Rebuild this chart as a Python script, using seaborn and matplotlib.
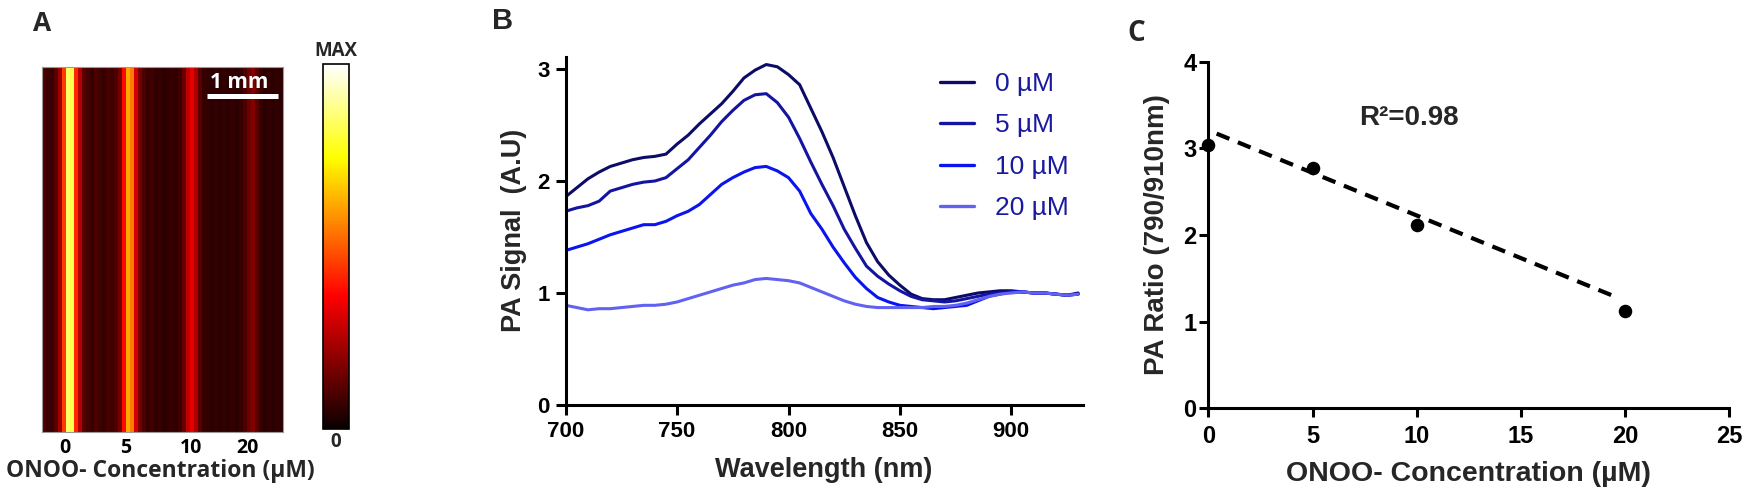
import numpy as np
import pandas as pd
import matplotlib
matplotlib.use("Agg")
import matplotlib.pyplot as plt
import seaborn as sns
from matplotlib import font_manager
from matplotlib.font_manager import FontProperties

# ---------------- data ----------------
# Panel A: horizontal intensity profile across the tube image (0 = black, 1 = MAX)
intensity_profile = [0.10, 0.08, 0.07, 0.12, 0.22, 0.45, 0.85, 0.82, 0.42, 0.25,
                     0.12, 0.09, 0.07, 0.10, 0.08, 0.07, 0.09, 0.08, 0.10, 0.16,
                     0.38, 0.62, 0.55, 0.30, 0.16, 0.10, 0.07, 0.08, 0.06, 0.07,
                     0.05, 0.06, 0.07, 0.06, 0.08, 0.14, 0.27, 0.33, 0.24, 0.12,
                     0.07, 0.06, 0.05, 0.06, 0.05, 0.06, 0.05, 0.06, 0.05, 0.07,
                     0.10, 0.15, 0.18, 0.12, 0.07, 0.05, 0.06, 0.05, 0.06, 0.05]
image_rows = 12
tube_labels = ["0", "5", "10", "20"]
tube_cols = [5.8, 20.8, 37.3, 51.3]

# Panel B: PA spectra
wavelength = [700, 705, 710, 715, 720, 725, 730, 735, 740, 745, 750, 755, 760, 765,
              770, 775, 780, 785, 790, 795, 800, 805, 810, 815, 820, 825, 830, 835,
              840, 845, 850, 855, 860, 865, 870, 875, 880, 885, 890, 895, 900, 905,
              910, 915, 920, 925, 930]
sig_0uM = [1.86, 1.94, 2.02, 2.08, 2.13, 2.16, 2.19, 2.21, 2.22, 2.24, 2.33, 2.41,
           2.51, 2.60, 2.69, 2.80, 2.92, 2.99, 3.04, 3.02, 2.95, 2.86, 2.65, 2.44,
           2.21, 1.95, 1.69, 1.45, 1.28, 1.16, 1.07, 0.99, 0.95, 0.94, 0.94, 0.96,
           0.98, 1.00, 1.01, 1.02, 1.02, 1.01, 1.00, 1.00, 0.99, 0.98, 1.00]
sig_5uM = [1.73, 1.76, 1.78, 1.82, 1.91, 1.94, 1.97, 1.99, 2.00, 2.03, 2.11, 2.19,
           2.30, 2.41, 2.53, 2.63, 2.72, 2.77, 2.78, 2.70, 2.57, 2.38, 2.17, 1.97,
           1.78, 1.57, 1.40, 1.24, 1.15, 1.08, 1.02, 0.97, 0.94, 0.93, 0.92, 0.93,
           0.95, 0.97, 0.99, 1.00, 1.01, 1.01, 1.00, 1.00, 0.99, 0.98, 0.99]
sig_10uM = [1.38, 1.41, 1.44, 1.48, 1.52, 1.55, 1.58, 1.61, 1.61, 1.64, 1.69, 1.73,
            1.79, 1.88, 1.97, 2.03, 2.08, 2.12, 2.13, 2.09, 2.03, 1.91, 1.71, 1.57,
            1.41, 1.27, 1.14, 1.04, 0.96, 0.92, 0.89, 0.88, 0.87, 0.86, 0.87, 0.88,
            0.89, 0.93, 0.97, 0.99, 1.01, 1.01, 1.00, 1.00, 0.99, 0.98, 0.99]
sig_20uM = [0.89, 0.87, 0.85, 0.86, 0.86, 0.87, 0.88, 0.89, 0.89, 0.90, 0.92, 0.95,
            0.98, 1.01, 1.04, 1.07, 1.09, 1.12, 1.13, 1.12, 1.11, 1.09, 1.05, 1.01,
            0.97, 0.93, 0.90, 0.88, 0.87, 0.87, 0.87, 0.87, 0.87, 0.88, 0.88, 0.89,
            0.91, 0.94, 0.97, 0.99, 1.00, 1.01, 1.00, 1.00, 0.99, 0.98, 0.99]
conc_labels = ["0 \u00b5M", "5 \u00b5M", "10 \u00b5M", "20 \u00b5M"]
line_colors = ["#0c0c68", "#1414a2", "#0a14ee", "#6262f2"]

# Panel C: ratio vs concentration
conc = [0, 5, 10, 20]
ratio = [3.04, 2.77, 2.12, 1.12]
fit_x = [0.4, 19.6]
fit_y = [3.17, 1.28]
r2_text = "R\u00b2=0.98"

# ---------------- style ----------------
sns.set_style("ticks")
plt.rcParams["font.family"] = ["Liberation Sans", "DejaVu Sans"]
plt.rcParams["axes.edgecolor"] = "black"
plt.rcParams["xtick.color"] = "black"
plt.rcParams["ytick.color"] = "black"

font_files = {f.fname.replace("\\", "/").split("/")[-1]: f.fname
              for f in font_manager.fontManager.ttflist}


def font_by_file(cands, size):
    for c in cands:
        if c in font_files:
            return FontProperties(fname=font_files[c], size=size)
    return FontProperties(family="Liberation Sans", weight="bold", size=size)


def calibri_like(size):
    return font_by_file(["OpenSans-Bold.ttf", "Lato-Bold.ttf", "LiberationSans-Bold.ttf"], size)


def arial_bold(size):
    return FontProperties(family=["Liberation Sans", "DejaVu Sans"], weight="bold", size=size)


W, H = 1752, 503
fig = plt.figure(figsize=(W / 100, H / 100), dpi=100)
fig.patch.set_facecolor("white")


def rect(l, t, r, b):
    return [l / W, 1 - b / H, (r - l) / W, (b - t) / H]


def fx(px):
    return px / W


def fy(py):
    return 1 - py / H


# ---------------- Panel A ----------------
axA = fig.add_axes(rect(41.7, 66.7, 282.7, 432))
cax = fig.add_axes(rect(323.3, 64.3, 349.3, 429))
img = np.tile(np.array(intensity_profile), (image_rows, 1))
sns.heatmap(img, ax=axA, cmap="hot", vmin=0, vmax=1, cbar_ax=cax,
            xticklabels=False, yticklabels=False, rasterized=True)
axA.set_xticks(tube_cols)
axA.set_xticklabels(tube_labels, fontproperties=calibri_like(14))
axA.tick_params(axis="x", length=0, pad=4)
axA.set_yticks([])
for s in axA.spines.values():
    s.set_visible(True)
    s.set_color("#9a9a9a")
    s.set_linewidth(0.8)
axA.set_xlabel("ONOO- Concentration (\u00b5M)", fontproperties=calibri_like(16.5))
axA.xaxis.set_label_coords(0.494, -0.075)
# scale bar
axA.plot([0.685, 0.982], [0.9206, 0.9206], transform=axA.transAxes, color="white",
         lw=3.6, solid_capstyle="butt")
axA.text(0.8195, 0.958, "1 mm", transform=axA.transAxes, color="white",
         ha="center", va="center", fontproperties=calibri_like(15))

cbar = axA.collections[0].colorbar
cbar.set_ticks([])
cbar.outline.set_visible(True)
cbar.outline.set_edgecolor("black")
cbar.outline.set_linewidth(1.2)
fig.text(fx(336), fy(51), "MAX", ha="center", va="center", fontproperties=calibri_like(13.5))
fig.text(fx(336), fy(442), "0", ha="center", va="center", fontproperties=calibri_like(13.5))
fig.text(fx(42), fy(23.5), "A", ha="center", va="center", fontproperties=calibri_like(19))

# ---------------- Panel B ----------------
axB = fig.add_axes(rect(565.7, 56.7, 1082.6, 405))
rows = []
for lab, ys in zip(conc_labels, [sig_0uM, sig_5uM, sig_10uM, sig_20uM]):
    for w, v in zip(wavelength, ys):
        rows.append({"Wavelength": w, "Signal": v, "Concentration": lab})
dfB = pd.DataFrame(rows)
sns.lineplot(data=dfB, x="Wavelength", y="Signal", hue="Concentration",
             hue_order=conc_labels, palette=dict(zip(conc_labels, line_colors)),
             linewidth=2.2, estimator=None, sort=False, ax=axB)
axB.set_xlim(700, 932)
axB.set_ylim(0, 3.11)
axB.set_xticks([700, 750, 800, 850, 900])
axB.set_yticks([0, 1, 2, 3])
sns.despine(ax=axB)
for s in ["left", "bottom"]:
    axB.spines[s].set_linewidth(2.2)
axB.tick_params(axis="both", direction="out", length=7, width=2.2, labelsize=16)
axB.tick_params(axis="x", pad=4.5)
axB.tick_params(axis="y", pad=4.5)
for t in axB.get_xticklabels() + axB.get_yticklabels():
    t.set_fontweight("bold")
axB.set_xlabel("Wavelength (nm)", fontsize=19.5, fontweight="bold")
axB.set_ylabel("PA Signal  (A.U)", fontsize=19.5, fontweight="bold")
axB.xaxis.set_label_coords(0.5, -0.148)
axB.yaxis.set_label_coords(-0.075, 0.5)
handles, labels = axB.get_legend_handles_labels()
for h in handles:
    h.set_linewidth(2.4)
axB.legend(handles, labels, loc="upper left", bbox_to_anchor=(fx(940), fy(72)),
           bbox_transform=fig.transFigure, frameon=False,
           prop=FontProperties(family=["Liberation Sans", "DejaVu Sans"], size=19),
           handlelength=1.3, handletextpad=0.8, labelspacing=0.66,
           borderpad=0, borderaxespad=0, labelcolor="#1a1aa0")
fig.text(fx(503), fy(21), "B", ha="center", va="center", fontproperties=arial_bold(21))

# ---------------- Panel C ----------------
axC = fig.add_axes(rect(1208.3, 61.7, 1729.5, 408.3))
dfC = pd.DataFrame({"conc": conc, "ratio": ratio})
dfFit = pd.DataFrame({"x": fit_x, "y": fit_y})
sns.lineplot(data=dfFit, x="x", y="y", ax=axC, color="black", linewidth=3.0,
             dashes=False, linestyle=(0, (3.3, 2.2)))
sns.scatterplot(data=dfC, x="conc", y="ratio", ax=axC, color="black", s=95,
                edgecolor="black", linewidth=0, clip_on=False, zorder=5)
axC.set_xlim(0, 25)
axC.set_ylim(0, 4)
axC.set_xticks([0, 5, 10, 15, 20, 25])
axC.set_yticks([0, 1, 2, 3, 4])
sns.despine(ax=axC)
for s in ["left", "bottom"]:
    axC.spines[s].set_linewidth(2.2)
axC.tick_params(axis="both", direction="out", length=6.5, width=2.2)
axC.tick_params(axis="x", pad=5.5)
axC.tick_params(axis="y", pad=2)
for t in axC.get_xticklabels() + axC.get_yticklabels():
    t.set_fontproperties(arial_bold(17))
axC.set_xlabel("ONOO- Concentration (\u00b5M)", fontproperties=arial_bold(20.5))
axC.set_ylabel("PA Ratio (790/910nm)", fontproperties=arial_bold(20))
axC.xaxis.set_label_coords(0.5, -0.153)
axC.yaxis.set_label_coords(-0.0735, 0.5)
axC.text(9.6, 3.35, r2_text, ha="center", va="center", fontproperties=arial_bold(20))
fig.text(fx(1136), fy(33), "C", ha="center", va="center", fontproperties=calibri_like(20))

fig.savefig("out.png", dpi=100, facecolor="white")
